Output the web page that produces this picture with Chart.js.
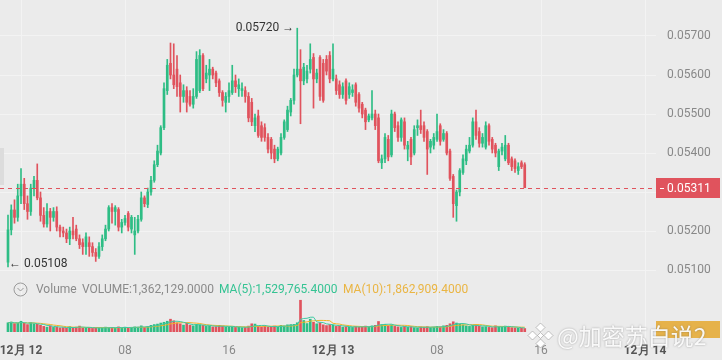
<!DOCTYPE html>
<html><head><meta charset="utf-8">
<script src="https://cdn.jsdelivr.net/npm/chart.js@4.4.0/dist/chart.umd.min.js"></script>
<style>
html,body{margin:0;padding:0;background:#ebebeb;}
#wrap{position:relative;width:722px;height:360px;overflow:hidden;background:#ebebeb;font-family:Roboto,"Noto Sans",Arial,sans-serif;}
#priceCanvas{position:absolute;left:0;top:0;}
#volCanvas{position:absolute;left:0;top:282px;}
.lg{position:absolute;top:281px;font-size:12px;line-height:16px;white-space:nowrap;color:#8a8a8a;}
#handle{position:absolute;left:0;top:148px;width:4px;height:37px;background:#dcdcdc;}
#ybox{position:absolute;left:656px;top:321px;width:64px;height:17px;background:#e6b24a;}
#wm{position:absolute;left:557px;top:320px;font-family:"Noto Sans CJK SC",sans-serif;font-size:23px;line-height:30px;color:rgba(255,255,255,0.92);text-shadow:0 0 2px rgba(90,90,90,0.55);white-space:nowrap;}
#wmlogo{position:absolute;left:527px;top:322px;}
</style></head>
<body>
<div id="wrap">
<canvas id="priceCanvas" width="722" height="282"></canvas>
<canvas id="volCanvas" width="722" height="78"></canvas>
<div id="handle"></div>
<svg style="position:absolute;left:13px;top:282px" width="15" height="15" viewBox="0 0 15 15"><circle cx="7.5" cy="7.5" r="6.5" fill="none" stroke="#9a9a9a" stroke-width="1"/><polyline points="4.5,6 7.5,9 10.5,6" fill="none" stroke="#9a9a9a" stroke-width="1"/></svg>
<div class="lg" style="left:36px">Volume</div>
<div class="lg" id="lgVol" style="left:82px"></div>
<div class="lg" id="lgMa5" style="left:219px;color:#35c393"></div>
<div class="lg" id="lgMa10" style="left:343px;color:#eab543"></div>
<div id="ybox"></div>
<svg id="wmlogo" width="27" height="27" viewBox="0 0 27 27"><g fill="rgba(255,255,255,0.95)" stroke="rgba(110,110,110,0.5)" stroke-width="0.8"><polygon points="13.5,1 18,5.5 13.5,10 9,5.5"/><polygon points="13.5,17 18,21.5 13.5,26 9,21.5"/><polygon points="5.5,9 10,13.5 5.5,18 1,13.5"/><polygon points="21.5,9 26,13.5 21.5,18 17,13.5"/><polygon points="13.5,10.5 16.5,13.5 13.5,16.5 10.5,13.5"/></g></svg>
<div id="wm">@加密苏白说2</div>
</div>
<script>
// ---- data (15-minute candles, first candle at 23:00 on 12月11) ----
const opens = [0.05120,0.05203,0.05254,0.05235,0.05290,0.05320,0.05270,0.05250,0.05310,0.05330,
0.05285,0.05240,0.05218,0.05250,0.05235,0.05250,0.05210,0.05200,0.05195,0.05180,
0.05200,0.05205,0.05180,0.05170,0.05160,0.05170,0.05160,0.05145,0.05135,0.05160,
0.05180,0.05205,0.05260,0.05250,0.05255,0.05210,0.05222,0.05245,0.05205,0.05190,
0.05200,0.05230,0.05285,0.05268,0.05300,0.05330,0.05370,0.05400,0.05465,0.05560,
0.05630,0.05600,0.05615,0.05580,0.05545,0.05560,0.05545,0.05525,0.05545,0.05560,
0.05650,0.05590,0.05600,0.05615,0.05605,0.05585,0.05555,0.05530,0.05545,0.05555,
0.05585,0.05565,0.05560,0.05560,0.05545,0.05530,0.05470,0.05495,0.05470,0.05465,
0.05440,0.05435,0.05410,0.05385,0.05400,0.05440,0.05460,0.05505,0.05535,0.05600,
0.05615,0.05585,0.05590,0.05615,0.05645,0.05590,0.05645,0.05630,0.05640,0.05650,
0.05590,0.05590,0.05575,0.05550,0.05585,0.05550,0.05555,0.05575,0.05550,0.05525,
0.05510,0.05485,0.05490,0.05500,0.05490,0.05375,0.05385,0.05435,0.05395,0.05500,
0.05470,0.05440,0.05480,0.05410,0.05435,0.05400,0.05465,0.05470,0.05470,0.05455,
0.05415,0.05420,0.05435,0.05470,0.05435,0.05450,0.05405,0.05340,0.05265,0.05300,
0.05350,0.05380,0.05405,0.05420,0.05480,0.05455,0.05425,0.05415,0.05470,0.05435,
0.05420,0.05365,0.05405,0.05385,0.05420,0.05385,0.05380,0.05355,0.05375,0.05370];
const highs = [0.05241,0.05267,0.05280,0.05320,0.05360,0.05335,0.05290,0.05320,0.05340,0.05372,
0.05300,0.05260,0.05270,0.05258,0.05260,0.05262,0.05215,0.05210,0.05205,0.05210,
0.05235,0.05215,0.05190,0.05180,0.05195,0.05185,0.05170,0.05155,0.05170,0.05190,
0.05215,0.05265,0.05270,0.05265,0.05260,0.05230,0.05240,0.05250,0.05240,0.05235,
0.05240,0.05300,0.05290,0.05310,0.05340,0.05380,0.05420,0.05470,0.05580,0.05640,
0.05682,0.05680,0.05650,0.05600,0.05575,0.05570,0.05560,0.05565,0.05660,0.05665,
0.05655,0.05625,0.05640,0.05620,0.05610,0.05590,0.05560,0.05555,0.05580,0.05625,
0.05600,0.05590,0.05580,0.05570,0.05555,0.05540,0.05500,0.05510,0.05480,0.05475,
0.05450,0.05440,0.05420,0.05415,0.05450,0.05485,0.05520,0.05540,0.05615,0.05720,
0.05665,0.05630,0.05625,0.05680,0.05655,0.05615,0.05650,0.05640,0.05650,0.05660,
0.05680,0.05600,0.05585,0.05580,0.05590,0.05580,0.05575,0.05580,0.05555,0.05530,
0.05515,0.05500,0.05560,0.05510,0.05500,0.05395,0.05450,0.05445,0.05510,0.05505,
0.05480,0.05490,0.05490,0.05430,0.05440,0.05470,0.05485,0.05510,0.05480,0.05460,
0.05435,0.05450,0.05500,0.05475,0.05460,0.05455,0.05410,0.05345,0.05305,0.05360,
0.05395,0.05420,0.05440,0.05490,0.05510,0.05465,0.05450,0.05480,0.05475,0.05440,
0.05425,0.05410,0.05425,0.05445,0.05425,0.05390,0.05385,0.05375,0.05380,0.05375];
const lows = [0.05108,0.05190,0.05220,0.05225,0.05270,0.05255,0.05230,0.05240,0.05290,0.05280,
0.05225,0.05210,0.05210,0.05200,0.05225,0.05200,0.05185,0.05185,0.05170,0.05165,
0.05180,0.05175,0.05155,0.05140,0.05140,0.05135,0.05135,0.05122,0.05130,0.05150,
0.05175,0.05200,0.05220,0.05215,0.05200,0.05195,0.05215,0.05200,0.05195,0.05140,
0.05195,0.05225,0.05262,0.05260,0.05292,0.05325,0.05365,0.05395,0.05460,0.05550,
0.05590,0.05565,0.05545,0.05505,0.05530,0.05505,0.05520,0.05515,0.05540,0.05555,
0.05560,0.05580,0.05560,0.05590,0.05570,0.05545,0.05520,0.05505,0.05530,0.05550,
0.05555,0.05545,0.05545,0.05530,0.05480,0.05470,0.05455,0.05440,0.05430,0.05430,
0.05400,0.05385,0.05375,0.05380,0.05395,0.05435,0.05455,0.05495,0.05525,0.05595,
0.05475,0.05575,0.05580,0.05605,0.05515,0.05580,0.05535,0.05530,0.05600,0.05580,
0.05585,0.05550,0.05540,0.05540,0.05525,0.05540,0.05545,0.05520,0.05505,0.05490,
0.05460,0.05480,0.05485,0.05460,0.05375,0.05360,0.05375,0.05380,0.05390,0.05455,
0.05430,0.05430,0.05410,0.05380,0.05370,0.05395,0.05445,0.05450,0.05430,0.05345,
0.05400,0.05410,0.05430,0.05420,0.05430,0.05395,0.05330,0.05235,0.05225,0.05290,
0.05345,0.05370,0.05400,0.05415,0.05435,0.05415,0.05415,0.05410,0.05420,0.05400,
0.05390,0.05355,0.05395,0.05380,0.05370,0.05355,0.05350,0.05345,0.05360,0.05311];
const closes = [0.05203,0.05254,0.05235,0.05290,0.05320,0.05270,0.05250,0.05310,0.05330,0.05285,
0.05240,0.05218,0.05250,0.05235,0.05250,0.05210,0.05200,0.05195,0.05180,0.05200,
0.05190,0.05180,0.05165,0.05160,0.05185,0.05160,0.05145,0.05135,0.05160,0.05180,
0.05205,0.05260,0.05250,0.05260,0.05210,0.05222,0.05232,0.05210,0.05235,0.05200,
0.05230,0.05285,0.05270,0.05300,0.05330,0.05370,0.05405,0.05465,0.05565,0.05625,
0.05600,0.05575,0.05570,0.05545,0.05560,0.05530,0.05525,0.05545,0.05640,0.05650,
0.05565,0.05605,0.05615,0.05600,0.05580,0.05555,0.05535,0.05545,0.05560,0.05585,
0.05570,0.05575,0.05565,0.05545,0.05490,0.05480,0.05490,0.05445,0.05440,0.05440,
0.05410,0.05400,0.05385,0.05410,0.05440,0.05480,0.05510,0.05535,0.05600,0.05615,
0.05585,0.05620,0.05610,0.05640,0.05590,0.05605,0.05545,0.05535,0.05610,0.05590,
0.05615,0.05560,0.05550,0.05570,0.05535,0.05570,0.05562,0.05530,0.05515,0.05500,
0.05480,0.05495,0.05500,0.05470,0.05380,0.05385,0.05440,0.05390,0.05500,0.05465,
0.05440,0.05485,0.05420,0.05420,0.05390,0.05460,0.05470,0.05460,0.05440,0.05410,
0.05430,0.05440,0.05455,0.05430,0.05450,0.05400,0.05335,0.05270,0.05300,0.05355,
0.05385,0.05410,0.05420,0.05480,0.05445,0.05425,0.05440,0.05470,0.05430,0.05410,
0.05400,0.05405,0.05415,0.05420,0.05375,0.05365,0.05360,0.05365,0.05365,0.05311];
// volume in millions
const volumes = [3.6,3.9,3.3,3.5,4.2,3.4,2.9,3.7,3.2,3.0,
2.6,2.2,1.9,2.4,1.8,2.0,1.6,1.7,1.5,2.1,
1.8,1.9,2.3,1.6,1.5,1.8,1.4,1.7,1.5,1.6,
1.9,1.7,1.8,1.5,2.0,1.6,1.9,1.7,1.8,2.0,
1.9,2.4,1.8,2.2,2.6,2.9,3.1,3.5,3.8,4.2,
5.0,4.4,3.6,3.2,2.7,3.5,2.6,2.4,3.0,2.8,
2.6,2.2,2.4,2.0,2.1,2.6,2.3,2.0,1.9,2.2,
1.8,1.9,1.7,1.8,2.3,3.2,3.1,2.2,2.0,2.4,
1.9,2.1,2.3,1.9,2.6,2.4,2.8,2.9,3.0,3.6,
12.4,4.5,3.3,5.0,3.8,3.2,3.6,2.8,2.5,2.9,
2.6,2.2,2.4,1.9,2.1,2.0,1.8,2.2,1.9,2.1,
2.3,2.0,2.4,2.6,4.1,2.9,3.0,2.5,2.8,2.2,
2.0,1.8,2.2,1.9,2.1,1.7,1.6,2.0,1.9,2.1,
1.8,1.9,2.2,2.0,2.4,2.6,3.2,4.0,3.5,3.1,
2.8,2.4,2.2,2.6,2.9,2.3,2.0,2.1,1.8,1.7,
2.40512,2.10288,1.99845,2.30654,2.167277,1.70235,1.59842,1.49361,1.492318,1.362129];
const firstCandleHour = -1;      // hours from 12月12 00:00
const candleMinutes = 15;
const xTickHours = [0, 8, 16, 24, 32, 40, 48];
const xTickLabels = ['12月 12', '08', '16', '12月 13', '08', '16', '12月 14'];
const priceTicks = [0.051, 0.052, 0.053, 0.054, 0.055, 0.056, 0.057];

// ---- chart ----
const FONT = 'Roboto, "Noto Sans", Arial, sans-serif';
const GREEN = '#2ebd85', RED = '#e0535d', GRID = '#f3f3f3';
const MA5C = '#3fcaa2', MA10C = '#f0b429';
const hours = opens.map((_, i) => firstCandleHour + i * candleMinutes / 60);
const up = i => closes[i] >= opens[i];
const candleColor = c => up(c.dataIndex) ? GREEN : RED;
const X_MIN = -21 / 13, X_MAX = (656 - 21) / 13;

function movingAvg(arr, n) {
  return arr.map((_, i) => {
    const s = Math.max(0, i - n + 1);
    let t = 0; for (let k = s; k <= i; k++) t += arr[k];
    return t / (i - s + 1);
  });
}
const ma5 = movingAvg(volumes, 5), ma10 = movingAvg(volumes, 10);
const fmt = v => (Math.round(v * 1e6 * 1e4) / 1e4).toLocaleString('en-US', {minimumFractionDigits: 4, maximumFractionDigits: 4});
const L = volumes.length - 1;
document.getElementById('lgVol').textContent = 'VOLUME:' + fmt(volumes[L]);
document.getElementById('lgMa5').textContent = 'MA(5):' + fmt(ma5[L]);
document.getElementById('lgMa10').textContent = 'MA(10):' + fmt(ma10[L]);

const setXTicks = s => { s.ticks = xTickHours.map(v => ({value: v})); };
const noPadX = s => { s.paddingLeft = 0; s.paddingRight = 0; s.paddingTop = 0; s.paddingBottom = 0; };

const annotPlugin = {
  id: 'annot',
  afterDatasetsDraw(chart) {
    const {ctx, chartArea: a, scales: {x, y}} = chart;
    const last = closes[closes.length - 1];
    const ly = Math.round(y.getPixelForValue(last)) + 0.5;
    ctx.save();
    ctx.strokeStyle = RED; ctx.lineWidth = 1; ctx.setLineDash([4, 4]);
    ctx.beginPath(); ctx.moveTo(a.left, ly); ctx.lineTo(a.right, ly); ctx.stroke();
    ctx.setLineDash([]);
    ctx.fillStyle = RED; ctx.fillRect(a.right, ly - 10.5, chart.width - a.right - 2, 20);
    ctx.strokeStyle = '#fff';
    ctx.beginPath(); ctx.moveTo(a.right + 4, ly); ctx.lineTo(a.right + 8, ly); ctx.stroke();
    ctx.fillStyle = '#fff'; ctx.font = '12px ' + FONT; ctx.textBaseline = 'middle'; ctx.textAlign = 'left';
    ctx.fillText(last.toFixed(5), a.right + 11, ly);
    let hi = 0, lo = 0;
    highs.forEach((v, i) => { if (v > highs[hi]) hi = i; });
    lows.forEach((v, i) => { if (v < lows[lo]) lo = i; });
    ctx.fillStyle = '#333';
    ctx.textAlign = 'right';
    ctx.fillText(highs[hi].toFixed(5) + ' →', x.getPixelForValue(hours[hi]) - 3, y.getPixelForValue(highs[hi]));
    ctx.textAlign = 'left';
    ctx.fillText('← ' + lows[lo].toFixed(5), x.getPixelForValue(hours[lo]) + 1, y.getPixelForValue(lows[lo]) - 3);
    ctx.restore();
  }
};

new Chart(document.getElementById('priceCanvas'), {
  type: 'bar',
  data: {datasets: [
    {data: hours.map((h, i) => ({x: h, y: [lows[i], highs[i]]})), backgroundColor: candleColor, barThickness: 1, grouped: false, minBarLength: 1},
    {data: hours.map((h, i) => ({x: h, y: [opens[i], closes[i]]})), backgroundColor: candleColor, barThickness: 2, grouped: false, minBarLength: 1}
  ]},
  options: {
    responsive: false, animation: false, devicePixelRatio: 1, layout: {padding: 0},
    plugins: {legend: {display: false}, tooltip: {enabled: false}},
    scales: {
      x: {type: 'linear', offset: false, min: X_MIN, max: X_MAX, afterBuildTicks: setXTicks,
          ticks: {display: false}, grid: {color: GRID, drawTicks: false, offset: false}, border: {display: false},
          afterFit: s => { s.height = 0; noPadX(s); }},
      y: {position: 'right', min: 0.057 - 246 / 39000, max: 0.057 + 36 / 39000,
          afterBuildTicks: s => { s.ticks = priceTicks.map(v => ({value: v})); },
          ticks: {color: '#888', font: {size: 12, family: FONT}, padding: 11, callback: v => v.toFixed(5)},
          grid: {color: GRID, drawTicks: false}, border: {display: false},
          afterFit: s => { s.width = 66; noPadX(s); }}
    }
  },
  plugins: [annotPlugin]
});

new Chart(document.getElementById('volCanvas'), {
  type: 'bar',
  data: {datasets: [
    {type: 'line', data: hours.map((h, i) => ({x: h, y: ma5[i]})), borderColor: MA5C, borderWidth: 1, pointRadius: 0, order: 0},
    {type: 'line', data: hours.map((h, i) => ({x: h, y: ma10[i]})), borderColor: MA10C, borderWidth: 1, pointRadius: 0, order: 0},
    {type: 'bar', data: hours.map((h, i) => ({x: h, y: volumes[i]})), backgroundColor: candleColor, barThickness: 2, order: 1}
  ]},
  options: {
    responsive: false, animation: false, devicePixelRatio: 1, layout: {padding: 0},
    plugins: {legend: {display: false}, tooltip: {enabled: false}},
    scales: {
      x: {type: 'linear', offset: false, min: X_MIN, max: X_MAX, afterBuildTicks: setXTicks,
          ticks: {autoSkip: false, maxRotation: 0, padding: 6,
                  callback: v => xTickLabels[xTickHours.indexOf(v)],
                  color: c => (c.index % 3 === 0) ? '#555' : '#888',
                  font: c => ({size: 12, family: FONT, weight: (c.index % 3 === 0) ? 'bold' : 'normal'})},
          grid: {color: GRID, drawTicks: true, tickLength: 6, offset: false}, border: {display: false},
          afterFit: s => { s.height = 28; noPadX(s); }},
      y: {position: 'right', min: 0, max: 12.5 * 50 / 32,
          ticks: {display: false}, grid: {display: false}, border: {display: false},
          afterFit: s => { s.width = 66; noPadX(s); }}
    }
  }
});
</script>
</body></html>
